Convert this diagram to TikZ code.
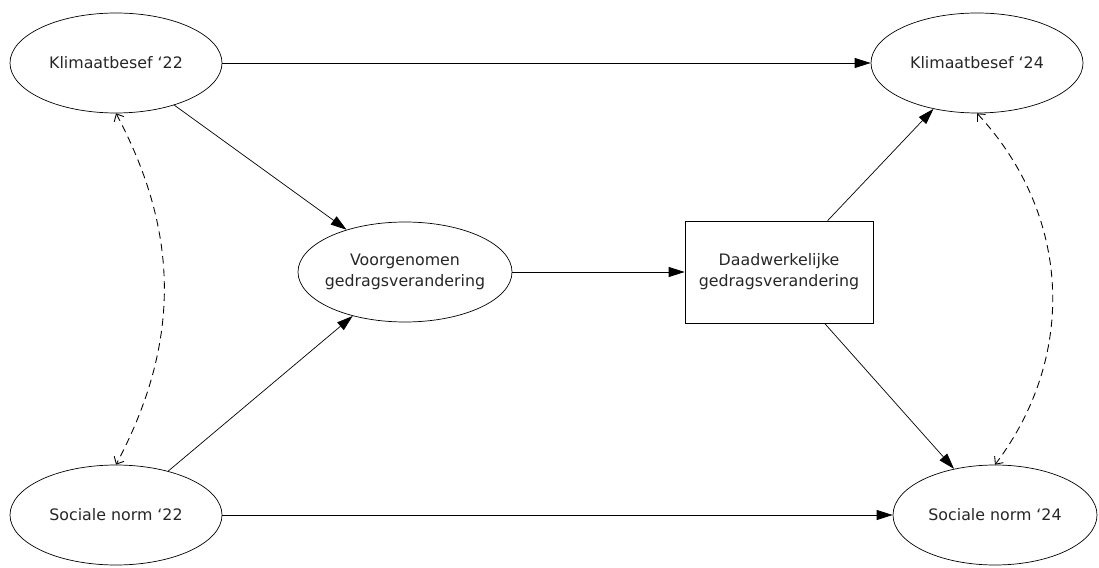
\documentclass[tikz,border=0pt]{standalone}
\usepackage{fontspec}
\setmainfont{DejaVu Sans}
\usetikzlibrary{shapes.geometric,arrows.meta}
\begin{document}
\begin{tikzpicture}[
  font=\fontsize{9}{12}\selectfont,
  latent/.style={ellipse, draw=black, thin, text=black!85, inner sep=0pt, minimum width=4.24cm, minimum height=2cm, align=center},
  observed/.style={rectangle, draw=black, thin, text=black!85, inner sep=0pt, minimum width=3.76cm, minimum height=2.04cm, align=center},
  path/.style={thin, draw=black, -{Triangle[length=3.2mm,width=2mm]}},
  covar/.style={line width=0.5pt, draw=black, dash pattern=on 1.5mm off 1mm, {Straight Barb[length=1.2mm,width=2.2mm]}-{Straight Barb[length=1.2mm,width=2.2mm]}}
]
  \useasboundingbox (0,0) rectangle (21.98,11.34);

  % latente variabelen
  \node[latent] (k22) at (2.32,10.08) {Klimaatbesef ‘22};
  \node[latent] (k24) at (19.54,10.08) {Klimaatbesef ‘24};
  \node[latent] (s22) at (2.32,1.04) {Sociale norm ‘22};
  \node[latent, minimum width=4.08cm] (s24) at (19.90,1.04) {Sociale norm ‘24};
  \node[latent, inner xsep=-4.5mm, minimum width=4.28cm] (voor) at (8.10,5.90) {Voorgenomen\\gedragsverandering};

  % gemeten variabele
  \node[observed] (daad) at (15.58,5.90) {Daadwerkelijke\\gedragsverandering};

  % paden
  \draw[path] (k22) -- (k24);
  \draw[path] (s22) -- (s24);
  \draw[path] (k22) -- (voor);
  \draw[path] (s22) -- (voor);
  \draw[path] (voor) -- (daad);
  \draw[path] (daad) -- (k24);
  \draw[path] (daad) -- (s24);

  % covarianties
  \draw[covar] (k22.south) to[bend left=28] (s22.north);
  \draw[covar] (k24.south) to[bend left=40] (s24.north);
\end{tikzpicture}
\end{document}
